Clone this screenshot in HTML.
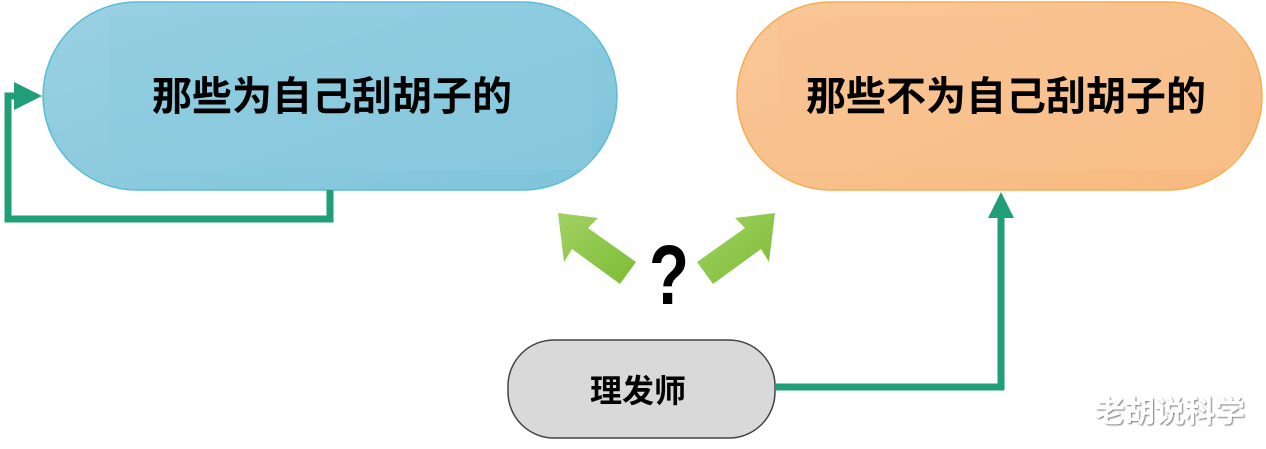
<!DOCTYPE html>
<html><head><meta charset="utf-8"><style>
html,body{margin:0;padding:0;background:#fff;width:1266px;height:449px;overflow:hidden;font-family:"Liberation Sans","Noto Sans CJK SC",sans-serif}
</style></head><body>
<svg width="1266" height="449" viewBox="0 0 1266 449" xmlns="http://www.w3.org/2000/svg">
<defs>
<linearGradient id="g1" x1="0" y1="0" x2="1" y2="1"><stop offset="0" stop-color="#9bd1e3"/><stop offset="1" stop-color="#7ec4da"/></linearGradient>
<linearGradient id="g2" x1="0" y1="0" x2="1" y2="1"><stop offset="0" stop-color="#f9c899"/><stop offset="1" stop-color="#f7b97f"/></linearGradient>
<linearGradient id="ga" x1="0" y1="0" x2="1" y2="1"><stop offset="0" stop-color="#a2d163"/><stop offset="1" stop-color="#7cbd35"/></linearGradient>
<clipPath id="c1"><rect x="43" y="2" width="574" height="188" rx="94"/></clipPath>
<clipPath id="c2"><rect x="737" y="2" width="525" height="188" rx="94"/></clipPath>
<filter id="sh"><feDropShadow dx="1" dy="1" stdDeviation="0.8" flood-color="#555" flood-opacity="0.8"/></filter>
</defs>
<rect x="43" y="2" width="574" height="188" rx="94" fill="url(#g1)" stroke="#5bbcd8" stroke-width="1.5"/>
<rect x="110" y="16" width="482" height="154" fill="#8ccbdf" opacity="0.6" clip-path="url(#c1)"/>
<text x="332" y="110" font-size="40" text-anchor="middle" font-weight="bold" fill="#000">那些为自己刮胡子的</text>
<rect x="737" y="2" width="525" height="188" rx="94" fill="url(#g2)" stroke="#f3ae52" stroke-width="1.5"/>
<rect x="778" y="16" width="462" height="154" fill="#f8c28f" opacity="0.6" clip-path="url(#c2)"/>
<text x="1006" y="110" font-size="40" text-anchor="middle" font-weight="bold" fill="#000">那些不为自己刮胡子的</text>
<polyline points="330,190 330,219 8,219 8,96 20,96" fill="none" stroke="#1f9e77" stroke-width="7"/>
<polygon points="14,82 42,96 14,110" fill="#1f9e77"/>
<rect x="508" y="340" width="267" height="98" rx="46" fill="#d9d9d9" stroke="#444" stroke-width="1.5"/>
<text x="638" y="402" font-size="32" text-anchor="middle" font-weight="bold" fill="#000">理发师</text>
<polyline points="775,387 1001,387 1001,214" fill="none" stroke="#1f9e77" stroke-width="7"/>
<polygon points="988,218 1001,192 1014,218" fill="#1f9e77"/>
<polygon points="558,213 598,218 588,228 636,262 620,284 572,249 564,262" fill="url(#ga)"/>
<polygon points="775,213 735,218 745,228 697,262 713,284 761,249 769,262" fill="url(#ga)"/>
<text x="669" y="304" font-size="84" text-anchor="middle" font-weight="bold" fill="#000" transform="translate(669 0) scale(0.78 1) translate(-669 0)">?</text>
<text x="1170" y="422" font-size="30" text-anchor="middle" font-weight="bold" fill="#fff" filter="url(#sh)">老胡说科学</text>
</svg>
</body></html>
